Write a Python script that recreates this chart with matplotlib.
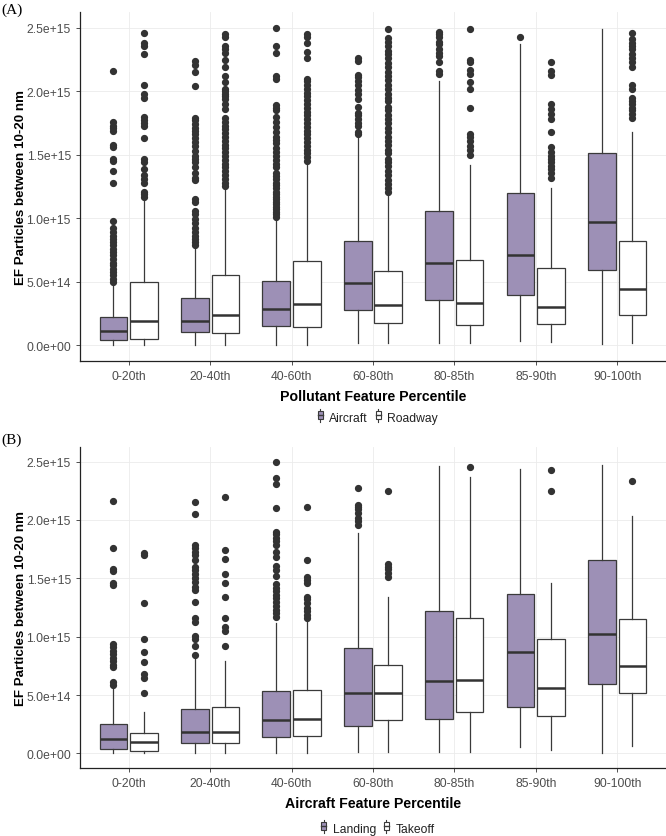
import numpy as np
import matplotlib

matplotlib.use("Agg")
import matplotlib.pyplot as plt
from matplotlib.patches import Rectangle
from matplotlib.lines import Line2D
from matplotlib.legend_handler import HandlerBase
from matplotlib.ticker import FuncFormatter

plt.rcParams["font.family"] = ["Liberation Sans", "DejaVu Sans"]

# all values in units of 1e14 particles
SCALE = 1e14
cats = ["0-20th", "20-40th", "40-60th", "60-80th", "80-85th", "85-90th", "90-100th"]

# --- panel A: Aircraft vs Roadway ---
air_q1 = [0.39, 1.05, 1.52, 2.75, 3.53, 3.93, 5.94]
air_med = [1.15, 1.94, 2.88, 4.90, 6.47, 7.12, 9.74]
air_q3 = [2.23, 3.72, 5.03, 8.19, 10.6, 12.0, 15.1]
air_lo = [0.02, 0.03, 0.03, 0.13, 0.13, 0.31, 0.10]
air_hi = [4.9, 7.7, 9.95, 16.4, 20.8, 23.7, 24.9]
air_out = [
    [21.6, 17.6, 17.3, 17.1, 16.9, 15.8, 15.6, 14.7, 14.5, 13.7, 12.8, 9.8, 9.2, 8.9, 8.6, 8.4,
     8.1, 7.9, 7.6, 7.3, 7.1, 6.8, 6.5, 6.3, 6.0, 5.8, 5.5, 5.2, 5.0],
    [22.4, 22.1, 21.5, 20.4, 17.9, 17.7, 17.4, 17.1, 16.9, 16.6, 16.3, 16.0, 15.7, 15.3, 14.9,
     14.7, 14.4, 14.0, 13.6, 13.2, 13.0, 11.5, 11.3, 10.6, 10.3, 9.9, 9.6, 9.2, 8.9, 8.6, 8.4,
     8.1, 7.9],
    [25.0, 23.6, 23.0, 21.2, 21.0, 18.9, 18.7, 18.5, 18.0, 17.6, 17.2, 16.8, 16.4, 16.2, 15.9,
     15.5, 15.2, 14.9, 14.6, 14.3, 14.0, 13.6, 13.3, 13.1, 12.8, 12.6, 12.4, 12.1, 11.9, 11.7,
     11.5, 11.3, 11.1, 10.9, 10.7, 10.5, 10.3, 10.1],
    [22.6, 22.4, 21.3, 21.1, 20.8, 20.5, 20.1, 19.8, 19.4, 18.8, 18.3, 18.1, 17.8, 17.5, 17.3,
     16.8, 16.6],
    [24.7, 24.5, 24.3, 23.9, 23.7, 23.3, 23.0, 22.8, 22.3, 21.6, 21.4],
    [24.3],
    [],
]

road_q1 = [0.52, 0.97, 1.39, 1.78, 1.57, 1.68, 2.36]
road_med = [1.88, 2.36, 3.22, 3.20, 3.35, 3.04, 4.40]
road_q3 = [4.97, 5.55, 6.60, 5.86, 6.68, 6.07, 8.19]
road_lo = [0.02, 0.02, 0.02, 0.13, 0.13, 0.26, 0.13]
road_hi = [11.6, 12.3, 14.3, 11.9, 14.2, 12.4, 16.8]
road_out = [
    [24.6, 23.8, 23.6, 22.9, 20.5, 19.8, 19.5, 18.0, 17.7, 17.5, 17.3, 16.3, 14.7, 14.4, 13.9,
     13.4, 13.1, 12.8, 12.1, 11.9, 11.7],
    [24.5, 24.3, 23.6, 23.3, 23.0, 22.5, 21.9, 21.2, 20.7, 20.2, 20.0, 19.8, 19.6, 19.4, 19.0,
     18.6, 17.9, 17.6, 17.3, 17.0, 16.7, 16.4, 16.1, 15.8, 15.5, 15.2, 14.9, 14.6, 14.3, 14.0,
     13.7, 13.4, 13.1, 12.8, 12.5],
    [24.5, 24.3, 23.8, 23.1, 22.6, 21.0, 20.8, 20.5, 20.2, 19.9, 19.6, 19.3, 19.0, 18.7, 18.4,
     18.1, 17.8, 17.5, 17.2, 16.9, 16.6, 16.3, 16.0, 15.7, 15.4, 15.1, 14.8, 14.5],
    [24.9, 24.2, 23.9, 23.6, 23.2, 22.9, 22.6, 22.2, 21.9, 21.5, 21.2, 20.9, 20.5, 20.2, 19.8,
     19.5, 19.2, 18.8, 18.5, 18.1, 17.8, 17.5, 17.1, 16.8, 16.4, 16.1, 15.8, 15.4, 15.1, 14.7,
     14.4, 14.1, 13.7, 13.4, 13.0, 12.7, 12.4, 12.1],
    [24.9, 22.5, 22.3, 21.7, 21.4, 20.7, 20.2, 18.7, 16.6, 16.4, 16.1, 15.7, 15.4, 15.0],
    [22.3, 21.6, 21.3, 19.0, 18.6, 18.2, 17.8, 16.8, 15.6, 15.2, 14.9, 14.7, 14.4, 14.1, 13.9,
     13.6, 13.2],
    [24.6, 24.1, 23.8, 23.6, 23.3, 22.9, 22.6, 22.3, 21.9, 20.5, 20.2, 19.5, 19.2, 19.0, 18.7,
     18.5, 18.2, 17.9],
]

# --- panel B: Landing vs Takeoff ---
land_q1 = [0.37, 0.88, 1.37, 2.37, 2.94, 3.94, 5.99]
land_med = [1.20, 1.85, 2.85, 5.22, 6.22, 8.65, 10.2]
land_q3 = [2.48, 3.85, 5.37, 9.00, 12.2, 13.7, 16.55]
land_lo = [0.02, 0.02, 0.02, 0.14, 0.14, 0.57, 0.08]
land_hi = [5.5, 8.2, 11.2, 18.9, 24.6, 24.4, 24.7]
land_out = [
    [21.6, 17.6, 15.8, 15.6, 14.6, 14.4, 9.4, 9.1, 8.8, 8.5, 8.2, 7.9, 7.6, 7.4, 6.1, 5.9],
    [21.5, 20.5, 17.9, 17.6, 17.3, 17.0, 16.6, 16.0, 15.7, 15.4, 15.0, 14.7, 14.3, 14.0, 13.0,
     11.6, 11.3, 10.1, 9.8, 9.2, 8.45],
    [25.0, 23.6, 23.1, 21.0, 19.0, 18.8, 18.5, 18.2, 17.9, 17.3, 16.8, 16.1, 15.7, 15.2, 14.5,
     14.2, 13.9, 13.6, 13.3, 13.0, 12.6, 12.3, 12.0, 11.7],
    [22.7, 21.3, 21.1, 20.9, 20.6, 20.2, 19.9, 19.6],
    [],
    [],
    [],
]

take_q1 = [0.23, 0.86, 1.46, 2.85, 3.51, 3.22, 5.14]
take_med = [1.00, 1.85, 2.94, 5.17, 6.28, 5.57, 7.50]
take_q3 = [1.74, 4.00, 5.45, 7.56, 11.6, 9.79, 11.56]
take_lo = [0.02, 0.02, 0.02, 0.14, 0.14, 0.31, 0.66]
take_hi = [3.57, 7.9, 11.4, 13.4, 23.7, 14.6, 20.3]
take_out = [
    [17.2, 17.0, 12.9, 9.8, 8.7, 7.8, 6.8, 6.5, 5.2],
    [22.0, 17.4, 16.7, 15.4, 14.6, 13.4, 11.6, 10.8, 10.5, 9.2],
    [21.1, 16.6, 15.1, 14.9, 14.6, 13.4, 13.2, 12.9, 12.5, 12.2, 11.9, 11.6],
    [22.5, 16.2, 16.0, 15.8, 15.5, 15.1],
    [24.5],
    [24.3, 22.5],
    [23.3],
]

PURPLE = "#9D90B6"
EDGE = "#3A3A3A"
TEXT = "#4D4D4D"


def stats(q1, med, q3, lo, hi, out):
    return [dict(q1=a * SCALE, med=b * SCALE, q3=c * SCALE, whislo=d * SCALE,
                 whishi=e * SCALE, fliers=np.array(f) * SCALE)
            for a, b, c, d, e, f in zip(q1, med, q3, lo, hi, out)]


class BoxKey(HandlerBase):
    # tiny boxplot glyph like ggplot's legend key
    def create_artists(self, legend, orig, xd, yd, w, h, fs, trans):
        cx = xd + w / 2
        bw, bh = w * 0.55, h * 0.75
        line = Line2D([cx, cx], [yd - h * 0.15, yd + h * 1.15], color=EDGE, lw=0.8,
                      transform=trans)
        box = Rectangle((cx - bw / 2, yd + (h - bh) / 2), bw, bh,
                        facecolor=orig.get_facecolor(), edgecolor=EDGE, lw=0.8,
                        transform=trans)
        med = Line2D([cx - bw / 2, cx + bw / 2], [yd + h / 2] * 2, color=EDGE, lw=1.0,
                     transform=trans)
        return [line, box, med]


def draw_panel(ax, left, right, xlabel):
    pos = np.arange(1, len(cats) + 1)
    for st, fill, off in [(left, PURPLE, -0.1875), (right, "white", 0.1875)]:
        ax.bxp(st, positions=pos + off, widths=0.34, patch_artist=True, showcaps=False,
               boxprops=dict(facecolor=fill, edgecolor=EDGE, lw=0.9),
               whiskerprops=dict(color=EDGE, lw=0.9),
               medianprops=dict(color="#333333", lw=1.8),
               flierprops=dict(marker="o", markerfacecolor="#333333",
                               markeredgecolor="#333333", markersize=4.2),
               zorder=3)
    ax.set_xlim(0.4, 7.6)
    ax.set_ylim(-1.25e14, 2.625e15)
    ax.set_xticks(pos, cats)
    ax.set_yticks(np.arange(0, 2.6e15, 5e14))
    ax.yaxis.set_major_formatter(FuncFormatter(lambda v, _: f"{v:.1e}"))
    ax.grid(True, color="#EBEBEB", lw=0.6, zorder=0)
    ax.set_axisbelow(True)
    for s in ["top", "right"]:
        ax.spines[s].set_visible(False)
    for s in ["left", "bottom"]:
        ax.spines[s].set_color("#222222")
        ax.spines[s].set_linewidth(0.9)
    ax.tick_params(colors="#333333", labelcolor=TEXT, labelsize=8.7, length=3, width=0.6)
    ax.set_ylabel("EF Particles between 10-20 nm", fontsize=9.6, fontweight="bold")
    ax.yaxis.set_label_coords(-0.091, 0.5)
    ax.set_xlabel(xlabel, fontsize=10.2, fontweight="bold", labelpad=5)


fig = plt.figure(figsize=(6.66, 8.37), dpi=100)
axA = fig.add_axes([0.120, 0.5675, 0.880, 0.417])
axB = fig.add_axes([0.120, 0.0812, 0.880, 0.3835])

draw_panel(axA, stats(air_q1, air_med, air_q3, air_lo, air_hi, air_out),
           stats(road_q1, road_med, road_q3, road_lo, road_hi, road_out),
           "Pollutant Feature Percentile")
draw_panel(axB, stats(land_q1, land_med, land_q3, land_lo, land_hi, land_out),
           stats(take_q1, take_med, take_q3, take_lo, take_hi, take_out),
           "Aircraft Feature Percentile")

for labels, yc in [(["Aircraft", "Roadway"], 1 - 419 / 837), (["Landing", "Takeoff"], 1 - 830 / 837)]:
    handles = [Rectangle((0, 0), 1, 1, facecolor=PURPLE), Rectangle((0, 0), 1, 1, facecolor="white")]
    fig.legend(handles, labels, loc="center", bbox_to_anchor=(377 / 666, yc), ncol=2,
               frameon=False, fontsize=8.7, handler_map={Rectangle: BoxKey()},
               handlelength=0.7, handleheight=0.9, handletextpad=0.4, columnspacing=0.5,
               labelcolor="#222222", borderpad=0.1)

fig.text(0.002, 0.988, "(A)", fontsize=11, family=["Liberation Serif"], va="center")
fig.text(0.002, 1 - 440 / 837, "(B)", fontsize=11, family=["Liberation Serif"], va="center")

fig.savefig("out.png", dpi=100)
